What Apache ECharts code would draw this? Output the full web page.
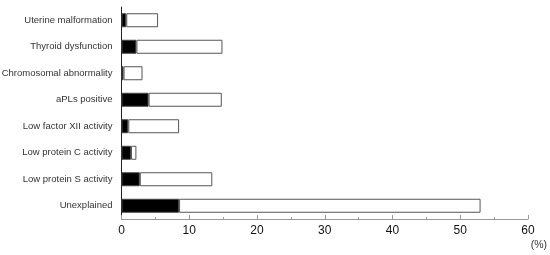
<!DOCTYPE html>
<html>
<head>
<meta charset="utf-8">
<script src="https://cdn.jsdelivr.net/npm/echarts@6/dist/echarts.min.js"></script>
<style>
  html, body { margin: 0; padding: 0; background: #fff; }
  #chart { width: 550px; height: 255px; }
</style>
</head>
<body>
<div id="chart"></div>
<script>
var categories = [
  'Uterine malformation',
  'Thyroid dysfunction',
  'Chromosomal abnormality',
  'aPLs positive',
  'Low factor XII activity',
  'Low protein C activity',
  'Low protein S activity',
  'Unexplained'
]
// black part of each bar (%)
var blackValues = [0.7, 2.2, 0.3, 4.0, 1.0, 1.4, 2.7, 8.5]
// whole bar length (%)
var totalValues = [5.4, 14.9, 3.1, 14.8, 8.5, 2.2, 13.4, 53.0]
var whiteValues = totalValues.map(function (t, i) {
  return +(t - blackValues[i]).toFixed(2)
})
var xTicks = [0, 10, 20, 30, 40, 50, 60]

var myChart = echarts.init(document.getElementById('chart'))
myChart.setOption({
  animation: false,
  grid: { left: 121.5, right: 22, top: 7, bottom: 36, containLabel: false, outerBoundsMode: 'none' },
  xAxis: {
    type: 'value',
    min: xTicks[0],
    max: xTicks[xTicks.length - 1],
    interval: 10,
    axisLine: { show: true, lineStyle: { color: '#999', width: 1 } },
    axisTick: { show: true, inside: true, length: 4, lineStyle: { color: '#999' } },
    minorTick: { show: true, splitNumber: 2, length: 2, lineStyle: { color: '#999' } },
    splitLine: { show: false },
    axisLabel: { color: '#111', fontSize: 12, fontFamily: 'Liberation Sans, Arial', margin: 6 }
  },
  yAxis: {
    type: 'category',
    data: categories,
    inverse: true,
    axisLine: { show: true, lineStyle: { color: '#222', width: 1 } },
    axisTick: { show: false },
    axisLabel: { color: '#333', fontSize: 9.5, fontFamily: 'Liberation Sans, Arial', margin: 9 }
  },
  graphic: [{
    type: 'text',
    right: 3,
    top: 240,
    style: { text: '(%)', fill: '#333', fontSize: 10.5, fontFamily: 'Liberation Sans, Arial' }
  }],
  series: [{
    type: 'bar',
    stack: 'all',
    data: blackValues,
    barWidth: 14,
    itemStyle: { color: '#000', borderColor: '#444', borderWidth: 1 }
  }, {
    type: 'bar',
    stack: 'all',
    data: whiteValues,
    barWidth: 14,
    itemStyle: { color: '#fff', borderColor: '#555', borderWidth: 1 }
  }]
})
</script>
</body>
</html>
